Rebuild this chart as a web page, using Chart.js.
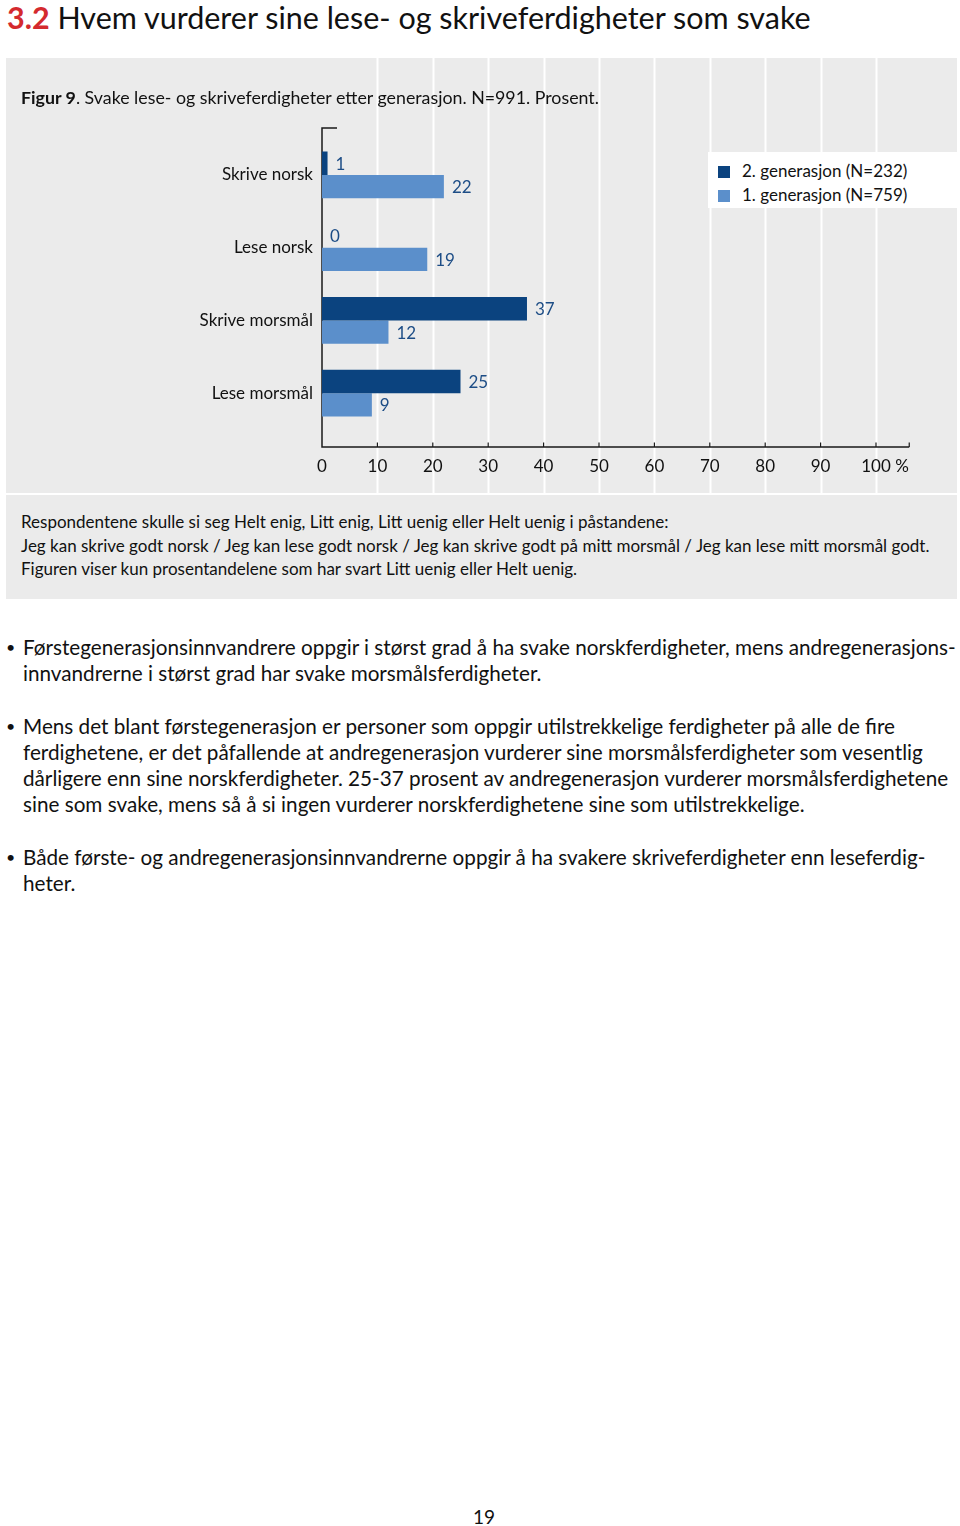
<!DOCTYPE html>
<html lang="no">
<head>
<meta charset="utf-8">
<script src="https://cdn.jsdelivr.net/npm/chart.js@4.4.1/dist/chart.umd.min.js"></script>
<style>
  body { margin: 0; background: #fff; font-family: Lato, "Open Sans", sans-serif; color: #111; }
  #page { position: relative; width: 960px; height: 1526px; overflow: hidden; }
  h1 { position: absolute; left: 7px; top: 0; margin: 0; font-weight: normal; font-size: 30.5px; line-height: 34px; white-space: nowrap; }
  h1 b { color: #d42a2e; }
  #panel { position: absolute; left: 6px; top: 58px; width: 951px; height: 435px; background: #ebebeb; }
  #panel canvas { position: absolute; left: 0; top: 0; }
  #caption { position: absolute; left: 15px; top: 28px; font-size: 17.8px; line-height: 22px; white-space: nowrap; }
  #legend { position: absolute; left: 702px; top: 94px; width: 249px; height: 56px; background: #fff; font-size: 17px; }
  #legend div { position: absolute; left: 10px; white-space: nowrap; line-height: 20px; }
  #legend span { display: inline-block; width: 12px; height: 12px; margin-right: 12px; vertical-align: -1px; }
  #note { position: absolute; left: 6px; top: 495px; width: 951px; height: 104px; background: #ebebeb; }
  #note p { margin: 0; position: absolute; left: 15px; top: 15px; font-size: 17px; line-height: 23.5px; white-space: nowrap; }
  #bullets { position: absolute; left: 0; top: 634px; width: 960px; }
  #bullets p { position: relative; margin: 0 0 27px 0; padding-left: 23px; font-size: 20.7px; line-height: 26px; white-space: nowrap; }
  #bullets p::before { content: "\2022"; position: absolute; left: 6px; font-size: 16px; }
  #pagenr { position: absolute; left: 0; width: 968px; top: 1506px; text-align: center; font-size: 19px; line-height: 22px; }
</style>
</head>
<body>
<div id="page">
  <h1><b>3.2</b> Hvem vurderer sine lese- og skriveferdigheter som svake</h1>

  <div id="panel">
    <canvas id="chart" width="951" height="435"></canvas>
    <div id="caption"><b>Figur 9</b>. Svake lese- og skriveferdigheter etter generasjon. N=991. Prosent.</div>
    <div id="legend">
      <div style="top:9px"><span style="background:#0b437f"></span>2. generasjon (N=232)</div>
      <div style="top:33px"><span style="background:#5b8fcb"></span>1. generasjon (N=759)</div>
    </div>
  </div>

  <div id="note">
    <p>Respondentene skulle si seg Helt enig, Litt enig, Litt uenig eller Helt uenig i påstandene:<br>
    Jeg kan skrive godt norsk / Jeg kan lese godt norsk / Jeg kan skrive godt på mitt morsmål / Jeg kan lese mitt morsmål godt.<br>
    Figuren viser kun prosentandelene som har svart Litt uenig eller Helt uenig.</p>
  </div>

  <div id="bullets">
    <p>Førstegenerasjonsinnvandrere oppgir i størst grad å ha svake norskferdigheter, mens andregenerasjons-<br>innvandrerne i størst grad har svake morsmålsferdigheter.</p>
    <p>Mens det blant førstegenerasjon er personer som oppgir utilstrekkelige ferdigheter på alle de fire<br>ferdighetene, er det påfallende at andregenerasjon vurderer sine morsmålsferdigheter som vesentlig<br>dårligere enn sine norskferdigheter. 25-37 prosent av andregenerasjon vurderer morsmålsferdighetene<br>sine som svake, mens så å si ingen vurderer norskferdighetene sine som utilstrekkelige.</p>
    <p>Både første- og andregenerasjonsinnvandrerne oppgir å ha svakere skriveferdigheter enn leseferdig-<br>heter.</p>
  </div>

  <div id="pagenr">19</div>
</div>

<script>
// ---------------------
// Data
// ---------------------
const kategorier = ['Skrive norsk', 'Lese norsk', 'Skrive morsmål', 'Lese morsmål'];
const gen2 = [1, 0, 37, 25];   // 2. generasjon (N=232)
const gen1 = [22, 19, 12, 9];  // 1. generasjon (N=759)
const xTicks = [0, 10, 20, 30, 40, 50, 60, 70, 80, 90, 100];

const fontFam = 'Lato, "Open Sans", sans-serif';
const labelColor = '#1d4d86';
const xPad = 27;

// gridlines, axis lines and the little % after 100
const frame = {
  id: 'frame',
  beforeDraw(chart) {
    const { ctx, scales: { x } } = chart;
    ctx.save();
    ctx.strokeStyle = '#ffffff';
    ctx.lineWidth = 2;
    xTicks.slice(1).forEach(v => {
      const px = Math.round(x.getPixelForValue(v)) + 0.5;
      ctx.beginPath(); ctx.moveTo(px, 0); ctx.lineTo(px, chart.height); ctx.stroke();
    });
    ctx.restore();
  },
  beforeDatasetsDraw(chart) {
    const { ctx, chartArea: a, scales: { x } } = chart;
    const axisY = a.bottom + 17.5;
    const axisTop = a.top - 10.5;
    ctx.save();
    ctx.strokeStyle = '#1a1a1a';
    ctx.lineWidth = 1.5;
    ctx.beginPath();
    ctx.moveTo(a.left + 15, axisTop);
    ctx.lineTo(a.left, axisTop);
    ctx.lineTo(a.left, axisY);
    ctx.lineTo(x.getPixelForValue(106), axisY);
    ctx.stroke();
    ctx.lineWidth = 1.2;
    [...xTicks.slice(1), 106].forEach(v => {
      const px = x.getPixelForValue(v);
      ctx.beginPath(); ctx.moveTo(px, axisY); ctx.lineTo(px, axisY - 4.5); ctx.stroke();
    });
    ctx.restore();
  },
  afterDraw(chart) {
    const { ctx, chartArea: a, scales: { x } } = chart;
    ctx.save();
    ctx.font = '17px ' + fontFam;
    ctx.fillStyle = '#111';
    ctx.textBaseline = 'middle';
    ctx.textAlign = 'left';
    const px = x.getPixelForValue(100) + ctx.measureText('100').width / 2 + ctx.measureText(' ').width;
    ctx.fillText('%', px, a.bottom + xPad + 17 * 1.2 / 2);
    ctx.restore();
  }
};

// verdier ved enden av hver bar
const verdier = {
  id: 'verdier',
  afterDatasetsDraw(chart) {
    const { ctx } = chart;
    ctx.save();
    ctx.font = '17px ' + fontFam;
    ctx.fillStyle = labelColor;
    ctx.textBaseline = 'middle';
    ctx.textAlign = 'left';
    chart.data.datasets.forEach((ds, i) => {
      chart.getDatasetMeta(i).data.forEach((bar, j) => {
        ctx.fillText(ds.data[j], bar.x + 8, bar.y + 1);
      });
    });
    ctx.restore();
  }
};

new Chart(document.getElementById('chart').getContext('2d'), {
  type: 'bar',
  data: {
    labels: kategorier,
    datasets: [
      { label: '2. generasjon (N=232)', data: gen2, backgroundColor: '#0b437f', categoryPercentage: 0.646, barPercentage: 1 },
      { label: '1. generasjon (N=759)', data: gen1, backgroundColor: '#5b8fcb', categoryPercentage: 0.646, barPercentage: 1 }
    ]
  },
  options: {
    indexAxis: 'y',
    responsive: false,
    animation: false,
    layout: { padding: { left: 0, right: 81, top: 80.5, bottom: 0 } },
    plugins: { legend: { display: false }, tooltip: { enabled: false } },
    scales: {
      x: {
        min: 0, max: 100,
        afterFit: s => { s.height = 63.5; },
        afterBuildTicks: s => { s.ticks = xTicks.map(v => ({ value: v })); },
        grid: { display: false, drawTicks: false, tickLength: 0 },
        border: { display: false },
        ticks: { color: '#111', padding: xPad, font: { family: fontFam, size: 17 } }
      },
      y: {
        afterFit: s => { s.width = 316; },
        grid: { display: false, drawTicks: false, tickLength: 0 },
        border: { display: false },
        ticks: { color: '#111', padding: 9, font: { family: fontFam, size: 17 } }
      }
    }
  },
  plugins: [frame, verdier]
});
</script>
</body>
</html>
